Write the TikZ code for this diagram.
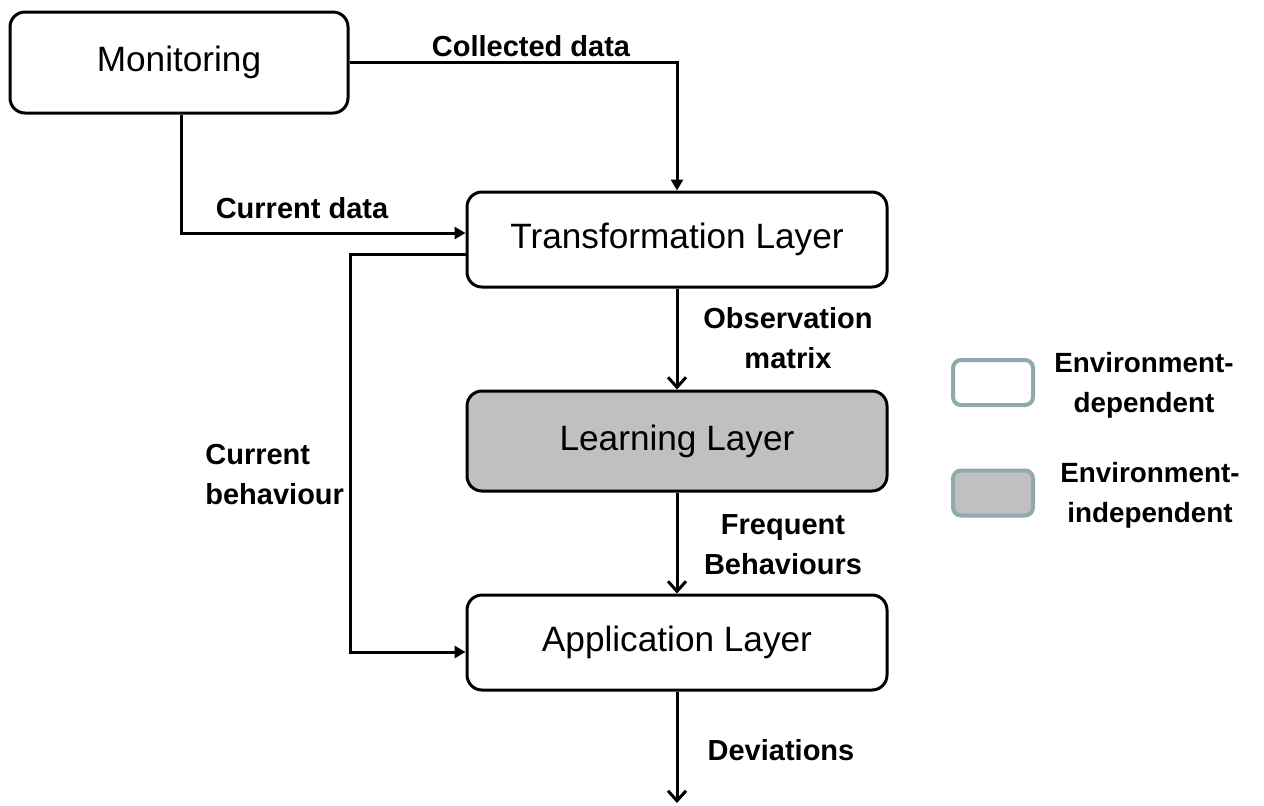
\documentclass[tikz,border=0pt]{standalone}
\usepackage{fontspec}
\setmainfont{Liberation Sans}
\usetikzlibrary{arrows.meta}
\definecolor{legbord}{HTML}{8FA9AC}
\definecolor{boxgray}{HTML}{C0C0C0}
\tikzset{
  layerbox/.style={draw=black, line width=1.5pt, rounded corners=7.5pt, fill=white,
    font=\fontsize{17.6}{21}\selectfont, inner sep=0pt},
  lbl/.style={font=\fontsize{14.5}{20}\selectfont\bfseries, align=center, inner sep=0pt},
  legbox/.style={draw=legbord, line width=2pt, rounded corners=4pt, minimum width=40pt, minimum height=22.5pt, inner sep=0pt},
  conn/.style={draw=black, line width=1.5pt},
  tri/.style={conn, -{Triangle[length=5.5pt,width=6pt]}},
  barb/.style={conn, -{Straight Barb[length=5pt,width=9pt,line width=1.5pt]}},
}
\begin{document}
\begin{tikzpicture}[x=0.5pt, y=-0.5pt]
\useasboundingbox (0,0) rectangle (1264,805);
% layer boxes
\node[layerbox, minimum width=169pt, minimum height=50.5pt] (mon) at (179,62.5) {Monitoring};
\node[layerbox, minimum width=210pt, minimum height=47.5pt] (trans) at (677,239.5) {Transformation Layer};
\node[layerbox, fill=boxgray, minimum width=210pt, minimum height=50pt] (learn) at (677,441) {Learning Layer};
\node[layerbox, minimum width=210pt, minimum height=47.5pt] (app) at (677,642.5) {Application Layer};
% helper coordinates
\coordinate (cbx) at (350,0);
\coordinate (tin) at ([yshift=3.25pt]trans.west);
\coordinate (tout) at ([yshift=-7.25pt]trans.west);
\coordinate (ain) at ([yshift=-4.75pt]app.west);
\coordinate (mdown) at ([xshift=1pt]mon.south);
\coordinate (devend) at (677,803);
% connectors
\draw[tri] (mon.east) -| (trans.north);
\draw[tri] (mdown) |- (tin);
\draw[tri] (tout) -- (cbx |- tout) |- (ain);
\draw[barb] (trans.south) -- (learn.north);
\draw[barb] (learn.south) -- (app.north);
\draw[barb] (app.south) -- (devend);
% labels
\node[lbl] (lcol) at (531,46) {Collected data};
\node[lbl] (lcur) at (302,208) {Current data};
\node[lbl] (lobs) at (788,338) {Observation\\matrix};
\node[lbl] (lfreq) at (783,545) {Frequent\\Behaviours};
\node[lbl, align=left, anchor=west] (lbeh) at (205,475) {Current\\behaviour};
\node[lbl] (ldev) at (781,750) {Deviations};
% legend
\node[legbox, fill=white] (legdep) at (993,382.5) {};
\node[legbox, fill=boxgray] (legind) at (993,493) {};
\node[lbl, font=\fontsize{13.9}{20}\selectfont\bfseries] (tdep) at (1144,385) {Environment-\\dependent};
\node[lbl, font=\fontsize{13.9}{20}\selectfont\bfseries] (tind) at (1150,495) {Environment-\\independent};
\end{tikzpicture}
\end{document}
